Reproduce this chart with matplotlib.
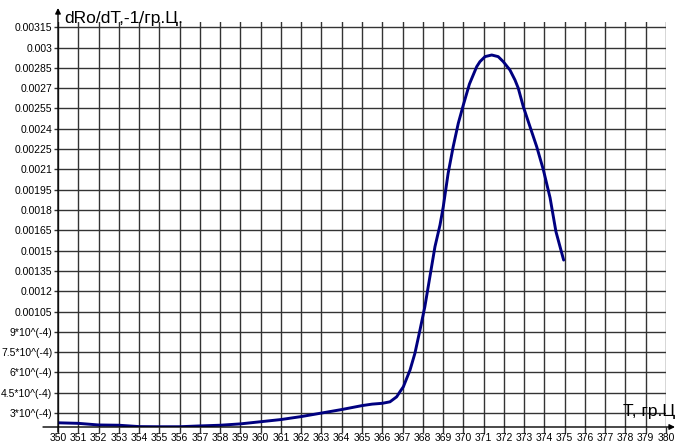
import matplotlib
matplotlib.use("Agg")
from matplotlib import pyplot as plt

plt.rcParams['font.family'] = ['Liberation Sans', 'DejaVu Sans']

# curve: temperature (гр.Ц) and dRo/dT (1/гр.Ц)
temp = [350, 351, 352, 353, 354, 355, 356, 357, 358, 359, 360, 361, 362,
        363, 364, 365, 365.5, 366, 366.38, 366.71, 366.87, 367.04, 367.37,
        367.61, 367.86, 368.1, 368.35, 368.6, 368.85, 369.01, 369.25,
        369.5, 369.75, 370.0, 370.3, 370.66, 370.82, 371.07, 371.4,
        371.72, 371.97, 372.3, 372.55, 372.71, 372.96, 373.29, 373.62,
        373.95, 374.28, 374.57, 374.95]
drodt = [2.28e-4, 2.24e-4, 2.12e-4, 2.10e-4, 2.00e-4, 1.99e-4, 1.99e-4,
         2.05e-4, 2.10e-4, 2.20e-4, 2.36e-4, 2.52e-4, 2.74e-4, 3.00e-4,
         3.26e-4, 3.55e-4, 3.66e-4, 3.72e-4, 3.83e-4, 4.20e-4, 4.57e-4,
         4.94e-4, 6.18e-4, 7.41e-4, 9.13e-4, 1.085e-3, 1.307e-3, 1.529e-3,
         1.69e-3, 1.824e-3, 2.071e-3, 2.268e-3, 2.44e-3, 2.576e-3,
         2.73e-3, 2.859e-3, 2.896e-3, 2.933e-3, 2.945e-3, 2.933e-3,
         2.896e-3, 2.834e-3, 2.76e-3, 2.70e-3, 2.563e-3, 2.415e-3,
         2.268e-3, 2.096e-3, 1.89e-3, 1.64e-3, 1.43e-3]

x_ticks = list(range(350, 381))
y_ticks = [3e-4, 4.5e-4, 6e-4, 7.5e-4, 9e-4, 1.05e-3, 1.2e-3, 1.35e-3,
           1.5e-3, 1.65e-3, 1.8e-3, 1.95e-3, 2.1e-3, 2.25e-3, 2.4e-3,
           2.55e-3, 2.7e-3, 2.85e-3, 3e-3, 3.15e-3]
y_labels = ['3*10^(-4)', '4.5*10^(-4)', '6*10^(-4)', '7.5*10^(-4)',
            '9*10^(-4)', '0.00105', '0.0012', '0.00135', '0.0015',
            '0.00165', '0.0018', '0.00195', '0.0021', '0.00225', '0.0024',
            '0.00255', '0.0027', '0.00285', '0.003', '0.00315']

W, H = 675, 446
fig = plt.figure(figsize=(W/100, H/100), dpi=100)
x0, x1, y0, y1 = 58, 666, 427, 21.7
ax = fig.add_axes([x0/W, 1-y0/H, (x1-x0)/W, (y0-y1)/H])
ax.set_xlim(350, 380)
ax.set_ylim(1.97e-4, 3.191e-3)
for s in ax.spines.values():
    s.set_visible(False)

ax.set_xticks(x_ticks)
ax.set_xticklabels([str(t) for t in x_ticks])
ax.set_yticks(y_ticks)
ax.set_yticklabels(y_labels)
ax.grid(True, color='#333333', lw=1)
ax.tick_params(axis='x', length=4, width=1, color='#333333', pad=0, labelsize=7.5)
ax.tick_params(axis='y', length=3, width=1, color='#333333', pad=1, labelsize=7.5)

ax.plot(temp, drodt, color='#000080', lw=2.1, solid_joinstyle='round',
        solid_capstyle='round')

# axes with arrows
pw, ph = x1 - x0, y0 - y1
ax.annotate('', xy=((675-x0)/pw, 0), xytext=((43-x0)/pw, 0),
            xycoords='axes fraction', textcoords='axes fraction',
            arrowprops=dict(arrowstyle='-|>', color='black', lw=1,
                            mutation_scale=8, shrinkA=0, shrinkB=0))
ax.annotate('', xy=(0, (y0-8)/ph), xytext=(0, (y0-432)/ph),
            xycoords='axes fraction', textcoords='axes fraction',
            arrowprops=dict(arrowstyle='-|>', color='black', lw=1,
                            mutation_scale=8, shrinkA=0, shrinkB=0))

fig.text(64/W, 1-23.5/H, 'dRo/dT,-1/гр.Ц.', fontsize=12.5, va='baseline', ha='left')
fig.text(675/W, 1-416/H, 'T, гр.Ц', fontsize=12.5, va='baseline', ha='right')

fig.savefig('out.png', dpi=100, facecolor='white')
